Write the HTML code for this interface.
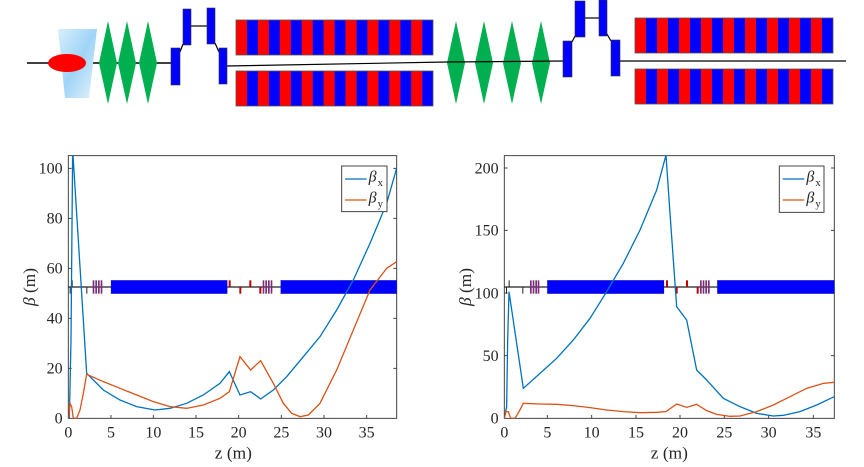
<!DOCTYPE html>
<html><head><meta charset="utf-8"><style>
html,body{margin:0;padding:0;background:#fff;}
svg, svg text{font-family:"Liberation Serif","Times New Roman",serif !important;}
</style></head><body>
<svg width="864" height="462" viewBox="0 0 864 462" xmlns="http://www.w3.org/2000/svg" font-family="Liberation Serif, serif">
<defs>
<linearGradient id="lb" x1="0" y1="0" x2="1" y2="1"><stop offset="0" stop-color="#d8eefc"/><stop offset="0.5" stop-color="#9fd4f7"/><stop offset="1" stop-color="#e6f4fd"/></linearGradient>
<pattern id="und" x="236" y="0" width="21.9" height="10" patternUnits="userSpaceOnUse">
<rect x="0" y="0" width="11" height="10" fill="#f00"/><rect x="11" y="0" width="10.9" height="10" fill="#00f"/>
</pattern>
<pattern id="und2" x="635" y="0" width="22" height="10" patternUnits="userSpaceOnUse">
<rect x="0" y="0" width="11" height="10" fill="#f00"/><rect x="11" y="0" width="11" height="10" fill="#00f"/>
</pattern>
</defs>
<line x1="27" y1="63" x2="171" y2="63" stroke="#000" stroke-width="1.5"/>
<polygon points="58,29 97,29 89,98 65,98" fill="url(#lb)"/>
<ellipse cx="67" cy="63" rx="19" ry="9" fill="#f00"/>
<g fill="#00b050">
<polygon points="108,21 117,63 108,104 99,63"/><polygon points="127,21 136,63 127,104 118,63"/><polygon points="148,21 157,63 148,104 139,63"/>
<polygon points="456,21 465,63 456,104 447,63"/><polygon points="484,21 493,63 484,104 475,63"/><polygon points="512,21 521,63 512,104 503,63"/><polygon points="541,21 550,63 541,104 532,63"/>
</g>
<g stroke="#000" stroke-width="1.2" fill="none">
<polyline points="180,52 183,44"/><line x1="191" y1="26" x2="207" y2="26"/><polyline points="215,43 219,52"/>
<line x1="227" y1="66" x2="447" y2="62"/><line x1="447" y1="62" x2="563" y2="61"/>
<polyline points="572,42 575,36"/><line x1="585" y1="18" x2="599" y2="18"/><polyline points="607,34 611,41"/>
<line x1="618" y1="61" x2="846" y2="61"/>
</g>
<g fill="#00f" stroke="#333" stroke-width="0.6">
<rect x="171" y="48" width="9" height="37"/><rect x="183" y="9" width="8" height="36"/><rect x="207" y="8" width="8" height="36"/><rect x="219" y="48" width="8" height="36"/>
<rect x="563" y="41" width="9" height="36"/><rect x="575" y="1" width="10" height="36"/><rect x="599" y="0" width="8" height="36"/><rect x="611" y="40" width="9" height="36"/>
</g>
<g stroke="#555" stroke-width="0.8">
<rect x="236" y="20" width="197" height="35" fill="url(#und)"/><rect x="236" y="71" width="197" height="35" fill="url(#und)"/>
<rect x="635" y="18" width="198" height="35" fill="url(#und2)"/><rect x="635" y="69" width="198" height="35" fill="url(#und2)"/>
</g>

<g transform="translate(20,140) scale(0.33333)">
<defs><clipPath id="c1"><rect x="145" y="47" width="985" height="788"/></clipPath></defs>
<g fill="#262626" font-size="48" text-anchor="end">
<text x="128" y="851">0</text><text x="128" y="701">20</text><text x="128" y="551">40</text><text x="128" y="401">60</text><text x="128" y="251">80</text><text x="128" y="101">100</text>
</g>
<g fill="#262626" font-size="48" text-anchor="middle">
<text x="145" y="892">0</text><text x="273" y="892">5</text><text x="400" y="892">10</text><text x="528" y="892">15</text><text x="656" y="892">20</text><text x="784" y="892">25</text><text x="912" y="892">30</text><text x="1040" y="892">35</text>
<text x="640" y="955" font-size="52">z (m)</text>
</g>
<text transform="translate(45,441) rotate(-90)" text-anchor="middle" font-size="52" fill="#262626"><tspan font-style="italic">β</tspan> (m)</text>
<g stroke="#444" stroke-width="1" fill="none">
<path d="M145,835H1130V47H145Z" vector-effect="non-scaling-stroke"/>
<path d="M273,835v-10M400,835v-10M528,835v-10M656,835v-10M784,835v-10M912,835v-10M1040,835v-10M145,685h10M145,535h10M145,385h10M145,235h10M145,85h10M1130,685h-10M1130,535h-10M1130,385h-10M1130,235h-10M1130,85h-10" vector-effect="non-scaling-stroke"/>
</g>
<g clip-path="url(#c1)">
<line x1="145" y1="441" x2="1130" y2="441" stroke="#222" stroke-width="1.2" vector-effect="non-scaling-stroke"/>
<g fill="#0000ff" stroke="#222" stroke-width="0.6" vector-effect="non-scaling-stroke"><rect x="273" y="421" width="349" height="40"/><rect x="782" y="421" width="360" height="40"/></g>
<g fill="#7a2d7a"><rect x="218" y="421" width="5" height="40"/><rect x="226" y="421" width="5" height="40"/><rect x="234" y="421" width="5" height="40"/><rect x="242" y="421" width="5" height="40"/><rect x="728" y="421" width="5" height="40"/><rect x="736" y="421" width="5" height="40"/><rect x="744" y="421" width="5" height="40"/><rect x="752" y="421" width="5" height="40"/></g>
<g fill="#c00000"><rect x="626" y="421" width="6" height="20"/><rect x="658" y="441" width="6" height="20"/><rect x="688" y="421" width="6" height="20"/><rect x="718" y="441" width="6" height="20"/></g>
<g fill="#222"><rect x="149" y="441" width="3" height="20"/><rect x="155" y="421" width="3" height="20"/><rect x="199" y="441" width="3" height="20"/></g>
<polyline fill="none" stroke="#0072bd" stroke-width="1.3" vector-effect="non-scaling-stroke" points="148,835 153,600 158,30 200,700 250,750 300,780 350,800 405,810 450,805 500,790 550,765 600,730 628,695 660,765 692,755 722,777 760,750 800,710 850,650 900,590 950,510 1000,420 1050,310 1100,190 1130,85"/>
<polyline fill="none" stroke="#d95319" stroke-width="1.3" vector-effect="non-scaling-stroke" points="146,835 150,790 155,800 160,835 170,835 180,810 190,760 200,703 250,725 300,745 350,765 400,785 450,800 500,805 550,795 600,775 628,755 660,650 692,690 722,662 760,730 790,790 815,820 840,830 865,825 900,790 950,690 1000,570 1050,450 1100,385 1130,365"/>
</g>
<rect x="965" y="78" width="136" height="137" fill="#fff" stroke="#444" stroke-width="1" vector-effect="non-scaling-stroke"/>
<line x1="975" y1="117" x2="1040" y2="117" stroke="#0072bd" stroke-width="1.3" vector-effect="non-scaling-stroke"/>
<line x1="975" y1="180" x2="1040" y2="180" stroke="#d95319" stroke-width="1.3" vector-effect="non-scaling-stroke"/>
<text x="1046" y="125" font-size="48" font-style="italic" fill="#262626">β</text><text x="1073" y="138" font-size="32" fill="#262626">x</text>
<text x="1046" y="188" font-size="48" font-style="italic" fill="#262626">β</text><text x="1073" y="201" font-size="32" fill="#262626">y</text>
</g>

<g transform="translate(440,140) scale(0.33333)">
<defs><clipPath id="c2"><rect x="193" y="47" width="990" height="788"/></clipPath></defs>
<g fill="#262626" font-size="48" text-anchor="end">
<text x="176" y="851">0</text><text x="176" y="663">50</text><text x="176" y="475">100</text><text x="176" y="287">150</text><text x="176" y="100">200</text>
</g>
<g fill="#262626" font-size="48" text-anchor="middle">
<text x="193" y="892">0</text><text x="322" y="892">5</text><text x="455" y="892">10</text><text x="588" y="892">15</text><text x="720" y="892">20</text><text x="853" y="892">25</text><text x="986" y="892">30</text><text x="1120" y="892">35</text>
<text x="688" y="955" font-size="52">z (m)</text>
</g>
<text transform="translate(93,441) rotate(-90)" text-anchor="middle" font-size="52" fill="#262626"><tspan font-style="italic">β</tspan> (m)</text>
<g stroke="#444" stroke-width="1" fill="none">
<path d="M193,835H1183V47H193Z" vector-effect="non-scaling-stroke"/>
<path d="M322,835v-10M455,835v-10M588,835v-10M720,835v-10M853,835v-10M986,835v-10M1120,835v-10M193,647h10M193,459h10M193,271h10M193,84h10M1183,647h-10M1183,459h-10M1183,271h-10M1183,84h-10" vector-effect="non-scaling-stroke"/>
</g>
<g clip-path="url(#c2)">
<line x1="193" y1="441" x2="1183" y2="441" stroke="#222" stroke-width="1.2" vector-effect="non-scaling-stroke"/>
<g fill="#0000ff" stroke="#222" stroke-width="0.6" vector-effect="non-scaling-stroke"><rect x="322" y="421" width="350" height="40"/><rect x="832" y="421" width="360" height="40"/></g>
<g fill="#7a2d7a"><rect x="270" y="421" width="5" height="40"/><rect x="278" y="421" width="5" height="40"/><rect x="286" y="421" width="5" height="40"/><rect x="293" y="421" width="5" height="40"/><rect x="780" y="421" width="5" height="40"/><rect x="788" y="421" width="5" height="40"/><rect x="796" y="421" width="5" height="40"/><rect x="804" y="421" width="5" height="40"/></g>
<g fill="#c00000"><rect x="678" y="421" width="6" height="20"/><rect x="707" y="441" width="6" height="20"/><rect x="738" y="421" width="6" height="20"/><rect x="770" y="441" width="6" height="20"/></g>
<g fill="#222"><rect x="198" y="441" width="3" height="20"/><rect x="206" y="421" width="3" height="20"/><rect x="247" y="441" width="3" height="20"/></g>
<polyline fill="none" stroke="#0072bd" stroke-width="1.3" vector-effect="non-scaling-stroke" points="193,835 200,800 203,600 207,455 250,745 300,700 350,655 400,600 450,535 500,455 550,370 600,270 650,150 678,45 690,220 710,500 740,540 770,690 800,720 850,775 900,800 950,820 1000,828 1030,826 1080,815 1130,795 1183,770"/>
<polyline fill="none" stroke="#d95319" stroke-width="1.3" vector-effect="non-scaling-stroke" points="193,835 198,815 205,815 212,835 225,835 237,815 250,790 300,792 350,793 400,797 450,803 500,810 550,815 600,818 650,817 678,815 710,792 740,802 770,793 800,812 830,823 870,829 900,828 950,815 1000,795 1050,770 1100,745 1150,730 1183,727"/>
</g>
<rect x="1018" y="78" width="134" height="139" fill="#fff" stroke="#444" stroke-width="1" vector-effect="non-scaling-stroke"/>
<line x1="1028" y1="117" x2="1093" y2="117" stroke="#0072bd" stroke-width="1.3" vector-effect="non-scaling-stroke"/>
<line x1="1028" y1="180" x2="1093" y2="180" stroke="#d95319" stroke-width="1.3" vector-effect="non-scaling-stroke"/>
<text x="1099" y="125" font-size="48" font-style="italic" fill="#262626">β</text><text x="1126" y="138" font-size="32" fill="#262626">x</text>
<text x="1099" y="188" font-size="48" font-style="italic" fill="#262626">β</text><text x="1126" y="201" font-size="32" fill="#262626">y</text>
</g>
</svg>
</body></html>
